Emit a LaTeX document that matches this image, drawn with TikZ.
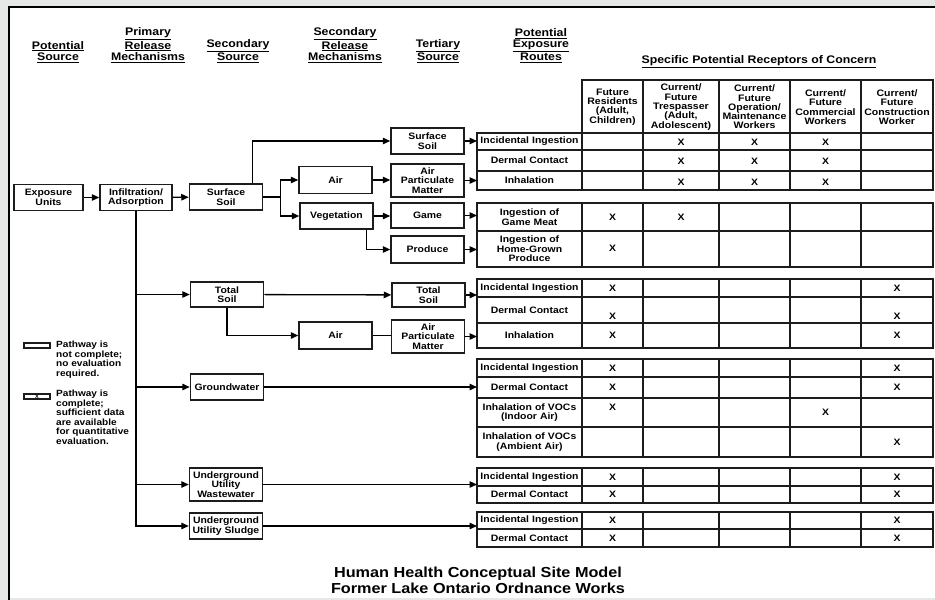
\documentclass[tikz,border=0pt]{standalone}
\usepackage{fontspec}
\setmainfont{Liberation Sans}[FakeStretch=1.12]
\usetikzlibrary{arrows.meta, positioning, calc}
\definecolor{panelgray}{HTML}{E6E8E8}
\definecolor{inkline}{HTML}{1C1C1C}
\newcommand{\cellfont}{\fontsize{9.3}{9.4}\selectfont\bfseries}
\newcommand{\hdrfont}{\fontsize{11}{11.6}\selectfont\bfseries}
\newcommand{\recfont}{\fontsize{9.4}{9.3}\selectfont\bfseries}
\newcommand{\ttlfont}{\fontsize{14.5}{15.5}\selectfont\bfseries}
\newcommand{\hd}[1]{\underline{#1}}
\tikzstyle{srcbox} = [draw=inkline, line width=1.5pt, minimum width=73pt, minimum height=26pt, align=center, inner sep=1pt, font=\cellfont]
\tikzstyle{route} = [draw=inkline, line width=1.5pt, minimum width=105pt, text width=103pt, inner sep=1pt, outer sep=0pt, align=center, font=\cellfont, anchor=north west]
\tikzstyle{cellline} = [draw=inkline, line width=1.5pt]
\tikzstyle{flow} = [line width=1.3pt, -{Triangle[length=7.5pt,width=6.5pt]}]
\tikzstyle{link} = [line width=1.3pt]
\tikzstyle{hdr} = [align=center, font=\hdrfont, anchor=south, inner sep=1pt]
\tikzstyle{rhead} = [align=center, font=\recfont, inner sep=0pt]
\tikzstyle{xmark} = [font=\cellfont, inner sep=0pt]
\tikzstyle{legtext} = [align=left, font=\fontsize{9}{9.5}\selectfont\bfseries, anchor=north west, inner sep=0pt]

\begin{document}
\begin{tikzpicture}[x=1pt, y=-1pt]
\useasboundingbox (0,0) rectangle (935,600);
% page
\fill[panelgray] (0,0) rectangle (935,600);
\fill[white] (8,6) rectangle (935,598);
\draw[line width=2pt] (9,600) -- (9,7) -- (935,7);

% column headings
\node[hdr] (hsrc) at (58,64) {\hd{Potential}\\\hd{Source}};
\node[hdr] (hprm) at (148,64) {\hd{Primary}\\\hd{Release}\\\hd{Mechanisms}};
\node[hdr] (hsec) at (238,64) {\hd{Secondary}\\\hd{Source}};
\node[hdr] (hsrm) at (345,64) {\hd{Secondary}\\\hd{Release}\\\hd{Mechanisms}};
\node[hdr] (hter) at (438,64) {\hd{Tertiary}\\\hd{Source}};
\node[hdr] (hexp) at (541,64) {\hd{Potential}\\\hd{Exposure}\\\hd{Routes}};
\node[hdr] (hrec) at (759,69) {\hd{Specific Potential Receptors of Concern}};

% receptor heads
\foreach \xa/\xb/\txt [count=\i] in {582/643/{Future\\Residents\\(Adult,\\Children)},
    643/719/{Current/\\Future\\Trespasser\\(Adult,\\Adolescent)},
    719/790/{Current/\\Future\\Operation/\\Maintenance\\Workers},
    790/861/{Current/\\Future\\Commercial\\Workers},
    861/933/{Current/\\Future\\Construction\\Worker}} {
  \draw[cellline] (\xa,80) rectangle (\xb,133);
  \node[rhead] (h\i) at ({(\xa+\xb)/2},107) {\txt};
}

% exposure routes and receptor cells
\foreach \i/\ya/\yb/\txt in {1/133/150/Incidental Ingestion, 2/150/171/Dermal Contact,
    3/171/190/Inhalation, 4/203/231/{Ingestion of\\Game Meat},
    5/231/267/{Ingestion of\\Home-Grown\\Produce},
    6/279/297/Incidental Ingestion, 7/297/323/Dermal Contact, 8/323/348/Inhalation,
    9/359/377/Incidental Ingestion, 10/377/398/Dermal Contact,
    11/398/427/{Inhalation of VOCs\\(Indoor Air)}, 12/427/457/{Inhalation of VOCs\\(Ambient Air)},
    13/468/486/Incidental Ingestion, 14/486/503/Dermal Contact,
    15/512/529/Incidental Ingestion, 16/529/547/Dermal Contact} {
  \pgfmathsetmacro\hh{\yb-\ya}
  \node[route, minimum height=\hh pt] (r\i) at (477,\ya) {\txt};
  \foreach \xa/\xb in {582/643,643/719,719/790,790/861,861/933}
    \draw[cellline] (\xa,\ya) rectangle (\xb,\yb);
}

\foreach \c/\x in {1/612.5,2/681,3/754.5,4/825.5,5/897}
  \coordinate (c\c) at (\x,0);

% complete pathways
\foreach \r/\c/\dy in {1/2/-1,1/3/-1,1/4/-1,2/2/-1,2/3/-1,2/4/-1,3/2/-2,3/3/-2,3/4/-2,
    4/1/0,4/2/0,5/1/1,6/1/0,6/5/0,7/1/-6,7/5/-6,8/1/0,8/5/0,9/1/0,9/5/0,10/1/0,10/5/0,
    11/1/5,11/4/0,12/5/0,13/1/0,13/5/0,14/1/0,14/5/0,15/1/0,15/5/0,16/1/0,16/5/0}
  \node[xmark, yshift=\dy pt] at (r\r -| c\c) {X};

% sources and release mechanisms
\node[srcbox, minimum width=69pt] (eu) at (48.5,197.5) {Exposure\\Units};
\node[srcbox, minimum width=72pt] (inf) at (136,197.5) {Infiltration/\\Adsorption};
\node[srcbox] (ss) at (226,197) {Surface\\Soil};
\node[srcbox, minimum height=27pt] (air1) at (335.5,180) {Air};
\node[srcbox] (veg) at (336.5,216) {Vegetation};
\node[srcbox] (tss) at (427.5,141) {Surface\\Soil};
\node[srcbox, minimum height=33pt] (apm1) at (427.5,180.5) {Air\\Particulate\\Matter};
\node[srcbox, minimum height=25pt] (game) at (427.5,215.5) {Game};
\node[srcbox, minimum height=27pt] (prod) at (427.5,249.5) {Produce};
\node[srcbox, minimum height=25pt] (ts) at (227,294.5) {Total\\Soil};
\node[srcbox, minimum height=24pt] (tts) at (428.5,295) {Total\\Soil};
\node[srcbox, minimum height=27pt] (air2) at (335.5,335.5) {Air};
\node[srcbox, minimum height=33pt] (apm2) at (428,336.5) {Air\\Particulate\\Matter};
\node[srcbox] (gw) at (227,387) {Groundwater};
\node[srcbox, minimum height=33pt] (uuw) at (226,484.5) {Underground\\Utility\\Wastewater};
\node[srcbox] (uus) at (226,526) {Underground\\Utility Sludge};

% connectors
\draw[flow] (eu) -- (inf);
\draw[flow] (inf) -- (ss);
\draw[flow] ([xshift=-11pt]ss.north east) |- (tss);
\coordinate (j1) at ([xshift=17pt]ss.east);
\draw[link] (ss.east) -- (j1);
\draw[flow] (j1) |- (air1);
\draw[flow] (j1) |- (veg);
\draw[flow] (air1) -- (apm1.west |- air1);
\draw[flow] (veg) -- (game.west |- veg);
\draw[flow] ([xshift=-7pt]veg.south east) |- (prod);
\draw[flow] (tss) -- (tss -| r1.west);
\draw[flow] (apm1) -- (apm1 -| r3.west);
\draw[flow] (game) -- (game -| r4.west);
\draw[flow] (prod) -- (prod -| r5.west);
\draw[flow] (inf) |- (uus);
\draw[flow] (inf |- ts) -- (ts);
\draw[flow] (inf |- gw) -- (gw);
\draw[flow] (inf |- uuw) -- (uuw);
\draw[flow] (ts) -- (tts);
\draw[flow] (ts) |- (air2);
\draw[link] (air2) -- (apm2.west |- air2);
\draw[flow] (tts) -- (tts -| r6.west);
\draw[flow] (apm2) -- (apm2 -| r8.west);
\draw[flow] (gw) -- (gw -| r10.west);
\draw[flow] (uuw) -- (uuw -| r13.west);
\draw[flow] (uus) -- (uus -| r15.west);

% legend
\node[draw=inkline, line width=1.5pt, minimum width=26pt, minimum height=5pt, inner sep=0pt] (lg1) at (37,345.5) {};
\node[legtext] (lt1) at (56,341) {Pathway is\\not complete;\\no evaluation\\required.};
\node[draw=inkline, line width=1.5pt, minimum width=26pt, minimum height=5pt, inner sep=0pt, font=\fontsize{5}{5}\selectfont\bfseries] (lg2) at (37,396.5) {X};
\node[legtext] (lt2) at (56,390) {Pathway is\\complete;\\sufficient data\\are available\\for quantitative\\evaluation.};

% title
\node[align=center, font=\ttlfont] (ttl) at (478,580.5) {Human Health Conceptual Site Model\\Former Lake Ontario Ordnance Works};
\end{tikzpicture}
\end{document}
